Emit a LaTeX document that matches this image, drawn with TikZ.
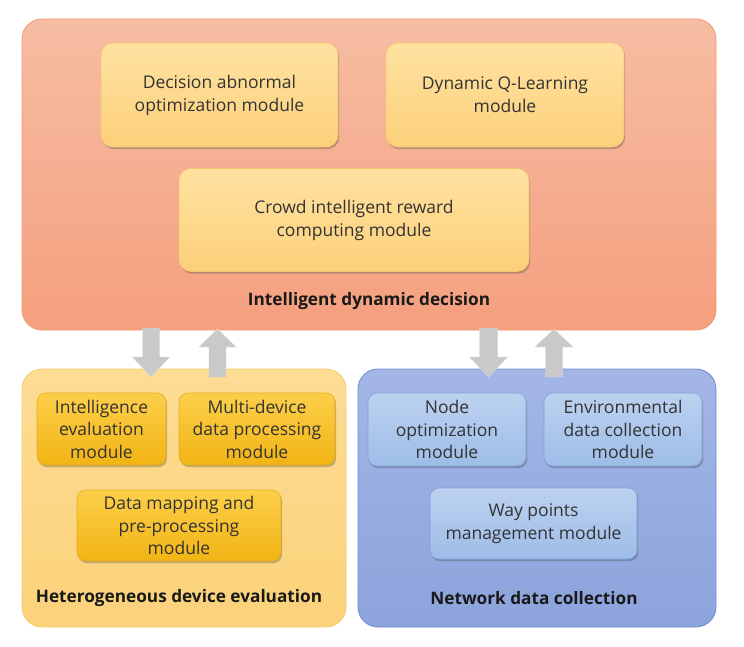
\documentclass[tikz,border=0pt]{standalone}
\usepackage{fontspec}
\setmainfont{Open Sans}
\usetikzlibrary{shadows,calc}
\definecolor{topA}{HTML}{F6BDA3}
\definecolor{topB}{HTML}{F59F7E}
\definecolor{topE}{HTML}{F19A72}
\definecolor{ylA}{HTML}{FDDC94}
\definecolor{ylB}{HTML}{FCD27A}
\definecolor{ylE}{HTML}{F6CB6E}
\definecolor{blA}{HTML}{A3B6E6}
\definecolor{blB}{HTML}{8CA3DC}
\definecolor{blE}{HTML}{6F8BD1}
\definecolor{mOA}{HTML}{FFE2A2}
\definecolor{mOB}{HTML}{FCD07A}
\definecolor{mOE}{HTML}{F7C76B}
\definecolor{mGA}{HTML}{FCCF4A}
\definecolor{mGB}{HTML}{F2B414}
\definecolor{mGE}{HTML}{E7AE1C}
\definecolor{mBA}{HTML}{BDD1F0}
\definecolor{mBB}{HTML}{9DBDE7}
\definecolor{mBE}{HTML}{7FA3D8}
\definecolor{arr}{HTML}{C9C9C9}
\definecolor{txt}{HTML}{333333}
\tikzset{
  x=1pt,y=-1pt,
  panel/.style={rounded corners=20pt, inner sep=0pt, line width=0.8pt},
  modbox/.style={rounded corners=12pt, inner sep=0pt, line width=0.6pt, align=center,
     font=\fontsize{17.5}{23}\selectfont, text=txt,
     drop shadow={shadow xshift=1.2pt, shadow yshift=-2.2pt, opacity=0.35, fill=black!70}},
  smallmod/.style={modbox, rounded corners=9pt, font=\fontsize{17.5}{22.5}\selectfont},
  paneltitle/.style={font=\fontsize{17.2}{19}\selectfont\bfseries, text=black!90, inner sep=0pt},
  blockarrow/.style={fill=arr, draw=black!15, line width=0.4pt},
}
\begin{document}
\begin{tikzpicture}
\useasboundingbox (0,0) rectangle (744,647);
% panels
\node[panel, draw=topE, top color=topA, bottom color=topB, minimum width=694pt, minimum height=311pt] (top) at (369,174.5) {};
\node[panel, draw=ylE, top color=ylA, bottom color=ylB, minimum width=324pt, minimum height=258pt] (left) at (184,498) {};
\node[panel, draw=blE, top color=blA, bottom color=blB, minimum width=358pt, minimum height=258pt] (right) at (537,498) {};
% top modules
\node[modbox, draw=mOE, top color=mOA, bottom color=mOB, minimum width=237pt, minimum height=104pt] (dec) at (219.5,95) {Decision abnormal\\optimization module};
\node[modbox, draw=mOE, top color=mOA, bottom color=mOB, minimum width=238pt, minimum height=104pt] (dq) at (505,95) {Dynamic Q-Learning\\module};
\node[modbox, draw=mOE, top color=mOA, bottom color=mOB, minimum width=350pt, minimum height=103pt] (crowd) at (354,220) {Crowd intelligent reward\\computing module};
\node[paneltitle] (ttop) at (369,301) {Intelligent dynamic decision};
% left modules
\node[smallmod, draw=mGE, top color=mGA, bottom color=mGB, minimum width=129pt, minimum height=72pt] (ie) at (101.5,429) {Intelligence\\evaluation\\module};
\node[smallmod, draw=mGE, top color=mGA, bottom color=mGB, minimum width=156pt, minimum height=72pt] (md) at (257,429) {Multi-device\\data processing\\module};
\node[smallmod, draw=mGE, top color=mGA, bottom color=mGB, minimum width=204pt, minimum height=71pt] (dm) at (179,525.5) {Data mapping and\\pre-processing\\module};
\node[paneltitle] (tleft) at (179,598) {Heterogeneous device evaluation};
% right modules
\node[smallmod, draw=mBE, top color=mBA, bottom color=mBB, minimum width=158pt, minimum height=73pt] (no) at (447,429.5) {Node\\optimization\\module};
\node[smallmod, draw=mBE, top color=mBA, bottom color=mBB, minimum width=158pt, minimum height=73pt] (en) at (623,429.5) {Environmental\\data collection\\module};
\node[smallmod, draw=mBE, top color=mBA, bottom color=mBB, minimum width=207pt, minimum height=71pt] (wp) at (533.5,523.5) {Way points\\management module};
\node[paneltitle] (tright) at (534,598) {Network data collection};
% block arrows
\newcommand{\downarr}[3]{% x-center, shaft half width, head half width
  \draw[blockarrow] ($(#1-#2,328)$) -- ($(#1+#2,328)$) -- ($(#1+#2,357)$) -- ($(#1+#3,357)$) -- ($(#1,377)$) -- ($(#1-#3,357)$) -- ($(#1-#2,357)$) -- cycle;}
\newcommand{\uparr}[3]{%
  \draw[blockarrow] ($(#1-#2,377)$) -- ($(#1+#2,377)$) -- ($(#1+#2,347)$) -- ($(#1+#3,347)$) -- ($(#1,329)$) -- ($(#1-#3,347)$) -- ($(#1-#2,347)$) -- cycle;}
\downarr{151}{8.5}{18.5}
\uparr{217.5}{8.5}{18.5}
\downarr{488.5}{9}{19}
\uparr{554}{8.5}{19}
\end{tikzpicture}
\end{document}
